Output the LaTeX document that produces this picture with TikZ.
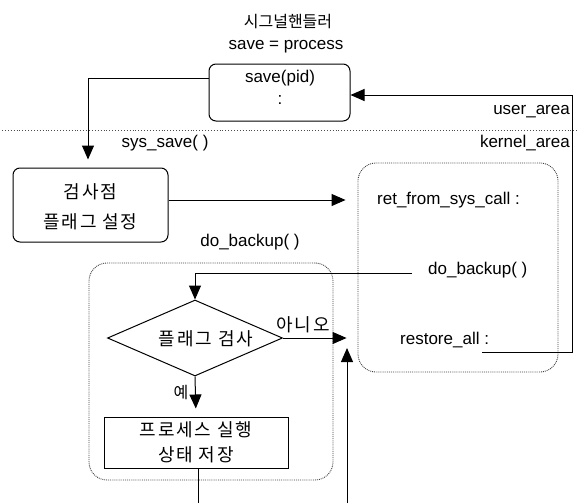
\documentclass[tikz,border=0pt]{standalone}
\usepackage{fontspec}
\setmainfont{Liberation Sans}
\newfontfamily\kr{Noto Sans CJK KR}
\newfontfamily\krwide[LetterSpace=10]{Noto Sans CJK KR}
\usetikzlibrary{arrows.meta,shapes.geometric}
\tikzset{
  ln/.style={line width=1pt},
  arr/.style={line width=1pt,-{Triangle[length=14pt,width=12pt]}},
  dotbox/.style={draw=black!75,densely dotted,line width=0.9pt,rounded corners=18pt,inner sep=0pt},
  solidbox/.style={draw,line width=1pt,rounded corners=7pt,inner sep=0pt},
  plainbox/.style={draw,line width=1pt,inner sep=0pt},
  lat/.style={font=\fontsize{17}{20}\selectfont,inner sep=0pt},
  kor/.style={font=\krwide\fontsize{18}{21}\selectfont,inner sep=0pt},
  korsmall/.style={font=\kr\fontsize{16}{19}\selectfont,inner sep=0pt},
}
\begin{document}
\begin{tikzpicture}[x=1pt,y=-1pt]
\useasboundingbox (0,0) rectangle (577,503);
% separator
\draw[black!70,dotted,line width=0.9pt] (2,130) -- (577,130);
% top
\node[korsmall] (title) at (288,22) {시그널핸들러};
\node[lat] (proc) at (286,47) {save = process};
\node[solidbox,minimum width=141pt,minimum height=57pt] (sbox) at (279.5,92.5) {};
\node[lat] (spid) at (280,78) {save(pid)};
\node[lat] (scol) at (280,100) {:};
\node[lat,anchor=east] (ua) at (570,112) {user\_area};
\node[lat,anchor=east] (ka) at (570,143) {kernel\_area};
\node[lat] (ss) at (165,143) {sys\_save( )};
% checkpoint box
\node[solidbox,minimum width=155pt,minimum height=74pt] (chk) at (90.5,205) {};
\node[kor] (chk1) at (90.5,192) {검사점};
\node[kor] (chk2) at (90.5,222) {플래그 설정};
% right kernel box
\node[dotbox,minimum width=200pt,minimum height=209pt] (rbox) at (458,267.5) {};
\node[lat,anchor=west] (ret) at (377,200) {ret\_from\_sys\_call :};
\node[lat,anchor=west] (dob) at (428,270) {do\_backup( )};
\node[lat,anchor=west] (rest) at (400,340) {restore\_all :};
% left do_backup box
\node[dotbox,minimum width=244pt,minimum height=217pt] (lbox) at (211,371.5) {};
\node[lat] (dobl) at (250,242) {do\_backup( )};
\node[draw,line width=1pt,diamond,minimum width=175pt,minimum height=76pt,inner sep=0pt] (dia) at (195,338) {};
\node[kor] (diat) at (206,339) {플래그 검사};
\node[kor] (no) at (303,325) {아니오};
\node[korsmall] (yes) at (181,393) {예};
\node[plainbox,minimum width=184pt,minimum height=51pt] (sv) at (196,442.5) {};
\node[kor] (sv1) at (196,430) {프로세스 실행};
\node[kor] (sv2) at (196,455) {상태 저장};
% connectors
\draw[arr] ([yshift=14.5pt]sbox.west) -| ([xshift=-2.5pt,yshift=8pt]chk.north);
\draw[arr,shorten >=12pt] ([yshift=5pt]chk.east) -- ([yshift=5pt]chk.east -| rbox.west);
\coordinate (rr) at (482,352);
\draw[arr] (rr) -- (572,352) -- (572,95) -- ([yshift=-2.5pt]sbox.east);
\coordinate (dobend) at (412,273);
\draw[arr] (dobend) -| (dia.north);
\draw[arr,shorten >=11pt] (dia.east) -- (dia.east -| rbox.west);
\draw[arr,shorten >=8pt] (dia.south) -- (sv.north);
\coordinate (b1) at (198,503);
\draw[ln] ([xshift=2pt]sv.south) -- (b1);
\coordinate (b2) at (347,503);
\coordinate (b2tip) at (347,348);
\draw[arr] (b2) -- (b2tip);
\end{tikzpicture}
\end{document}
